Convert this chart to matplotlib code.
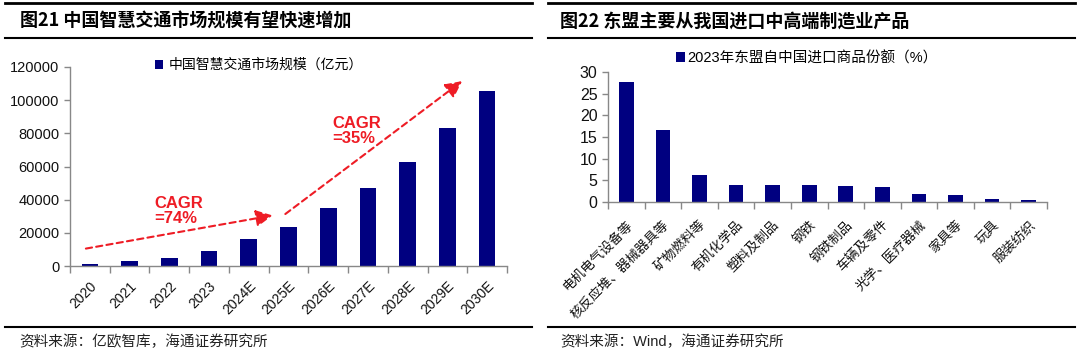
import matplotlib
matplotlib.use("Agg")
import matplotlib.pyplot as plt
from matplotlib.lines import Line2D

plt.rcParams['font.family'] = ['Liberation Sans', 'Noto Sans CJK SC', 'DejaVu Sans']

# ---- data ----
years = ['2020', '2021', '2022', '2023', '2024E', '2025E', '2026E', '2027E', '2028E', '2029E', '2030E']
market_size = [1500, 3000, 5000, 9000, 16500, 23500, 34700, 47300, 62800, 83000, 105800]
left_title = '图21 中国智慧交通市场规模有望快速增加'
left_legend = '中国智慧交通市场规模（亿元）'
left_source = '资料来源：亿欧智库，海通证券研究所'
left_yticks = [0, 20000, 40000, 60000, 80000, 100000, 120000]

categories = ['电机电气设备等', '核反应堆、器械器具等', '矿物燃料等', '有机化学品', '塑料及制品', '钢铁',
              '钢铁制品', '车辆及零件', '光学、医疗器械', '家具等', '玩具', '服装纺织']
shares = [27.7, 16.6, 6.2, 3.9, 3.9, 3.9, 3.6, 3.4, 1.9, 1.6, 0.7, 0.5]
right_title = '图22 东盟主要从我国进口中高端制造业产品'
right_legend = '2023年东盟自中国进口商品份额（%）'
right_source = '资料来源：Wind，海通证券研究所'
right_yticks = [0, 5, 10, 15, 20, 25, 30]

cagr_labels = ['CAGR\n=74%', 'CAGR\n=35%']

W, H = 1080, 359
fig = plt.figure(figsize=(W / 100, H / 100), dpi=100)
BAR = '#000080'
SP = '#888888'
CJK = ['Noto Sans CJK SC', 'DejaVu Sans']


def px(x0, y0, x1, y1):
    return [x0 / W, 1 - y1 / H, (x1 - x0) / W, (y1 - y0) / H]


def hline(x0, x1, y, lw):
    fig.add_artist(Line2D([x0 / W, x1 / W], [1 - y / H, 1 - y / H], color='black', lw=lw,
                          transform=fig.transFigure))


# frame lines
for (a, b) in [(5, 532), (548, 1075)]:
    hline(a, b, 3, 2.0)
    hline(a, b, 38, 1.5)
    hline(a, b, 327, 1.5)

fig.text(20 / W, 1 - 21 / H, left_title, fontsize=13, fontweight='bold', va='center', ha='left', family=CJK)
fig.text(560 / W, 1 - 21 / H, right_title, fontsize=13, fontweight='bold', va='center', ha='left', family=CJK)
fig.text(19 / W, 1 - 342 / H, left_source, fontsize=10.5, va='center', ha='left', family=CJK, color='#222222')
fig.text(560 / W, 1 - 342 / H, right_source, fontsize=10.5, va='center', ha='left',
         family=['Liberation Sans', 'Noto Sans CJK SC'], color='#222222')


def style(ax):
    for s in ['top', 'right']:
        ax.spines[s].set_visible(False)
    for s in ['left', 'bottom']:
        ax.spines[s].set_color(SP)
        ax.spines[s].set_linewidth(1.0)
    ax.tick_params(axis='y', colors=SP, labelcolor='#111111', length=4, labelsize=10.5, width=1)
    ax.tick_params(axis='x', which='major', length=0, labelcolor='#111111', labelsize=10)
    ax.tick_params(axis='x', which='minor', length=5, colors=SP, width=1)


# ---- left chart ----
ax1 = fig.add_axes(px(70, 67, 507, 266))
x1 = list(range(len(years)))
ax1.bar(x1, market_size, width=0.42, color=BAR, label=left_legend)
ax1.set_xlim(-0.5, len(years) - 0.5)
ax1.set_ylim(0, 120000)
ax1.set_yticks(left_yticks)
ax1.set_yticklabels([str(v) for v in left_yticks])
ax1.set_xticks(x1)
ax1.set_xticks([i - 0.5 for i in range(len(years) + 1)], minor=True)
ax1.set_xticklabels(years, rotation=45, ha='right', rotation_mode='anchor')
style(ax1)
for lab in ax1.get_xticklabels():
    lab.set_y(-0.04)

RED = '#ee1c25'
for (xy, xyt) in [((4.6, 30500), (-0.1, 10500)), ((9.37, 111500), (4.92, 31350))]:
    ax1.annotate('', xy=xy, xytext=xyt,
                 arrowprops=dict(arrowstyle='-|>,head_length=1.0,head_width=0.5', color=RED,
                                 lw=1.5, ls=(0, (3, 2)), shrinkA=0, shrinkB=0))
ax1.text(1.62, 42500, cagr_labels[0], color=RED, fontsize=12, fontweight='bold', va='top', ha='left',
         linespacing=1.0)
ax1.text(6.1, 90500, cagr_labels[1], color=RED, fontsize=12, fontweight='bold', va='top', ha='left',
         linespacing=1.0)

ax1.legend(loc='center left', bbox_to_anchor=(155 / W, 1 - 65 / H), bbox_transform=fig.transFigure,
           frameon=False, handlelength=0.6, handleheight=0.6, handletextpad=0.4,
           prop={'family': CJK, 'size': 10}, borderaxespad=0, borderpad=0)

# ---- right chart ----
ax2 = fig.add_axes(px(608, 72, 1047, 202))
x2 = list(range(len(categories)))
ax2.bar(x2, shares, width=0.4, color=BAR, label=right_legend)
ax2.set_xlim(-0.5, len(categories) - 0.5)
ax2.set_ylim(0, 30)
ax2.set_yticks(right_yticks)
ax2.set_yticklabels([str(v) for v in right_yticks])
ax2.set_xticks(x2)
ax2.set_xticks([i - 0.5 for i in range(len(categories) + 1)], minor=True)
ax2.set_xticklabels(categories, rotation=45, ha='right', rotation_mode='anchor', family=CJK)
style(ax2)
ax2.tick_params(axis='y', labelsize=11.5)
ax2.tick_params(axis='x', which='major', labelsize=9.5)
for lab in ax2.get_xticklabels():
    lab.set_y(-0.09)

ax2.legend(loc='center left', bbox_to_anchor=(676 / W, 1 - 58 / H), bbox_transform=fig.transFigure,
           frameon=False, handlelength=0.6, handleheight=0.6, handletextpad=0.2,
           prop={'family': ['Liberation Sans', 'Noto Sans CJK SC'], 'size': 10.5}, borderaxespad=0, borderpad=0)

fig.savefig('out.png', dpi=100)
